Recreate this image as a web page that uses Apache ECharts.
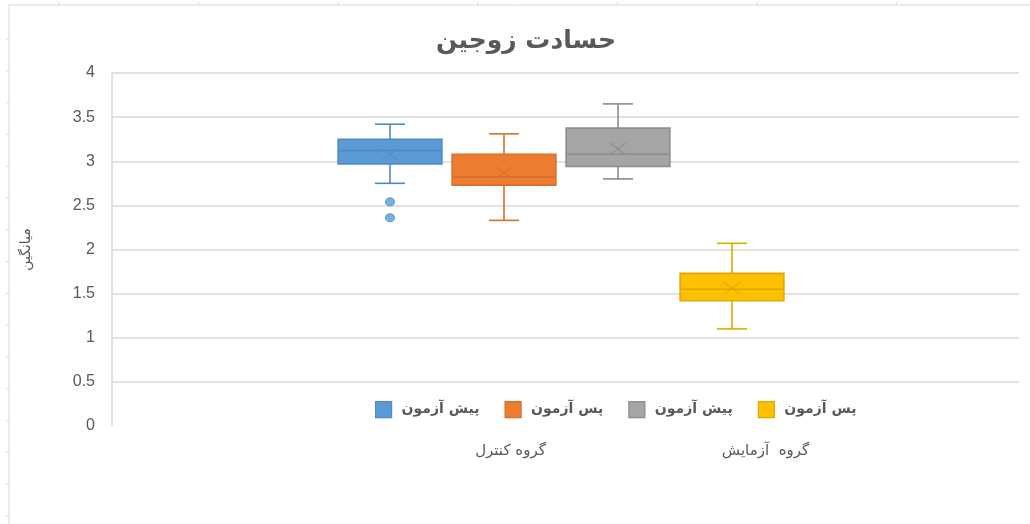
<!DOCTYPE html>
<html>
<head>
<meta charset="utf-8"/>
<title>حسادت زوجین</title>
<script src="https://cdn.jsdelivr.net/npm/echarts@6/dist/echarts.min.js"></script>
</head>
<body style="margin:0;background:#fff">
<div id="main" style="width:1030px;height:524px"></div>
<script>
// داده ها
var title = 'حسادت زوجین';
var yName = 'میانگین';
var groups = ['گروه کنترل', 'گروه  آزمایش'];
var testNames = ['پیش آزمون', 'پس آزمون', 'پیش آزمون', 'پس آزمون'];
var testGroup = [0, 0, 1, 1];
// [min, Q1, median, Q3, max]
var boxStats = [
  [2.75, 2.97, 3.12, 3.25, 3.42],
  [2.33, 2.73, 2.82, 3.08, 3.31],
  [2.80, 2.94, 3.08, 3.375, 3.65],
  [1.10, 1.42, 1.55, 1.73, 2.07]
];
var means = [3.08, 2.87, 3.14, 1.56];
var outliers = [[2.54, 2.36], [], [], []];
var yMin = 0, yMax = 4, yStep = 0.5;

var fills = ['#5B9BD5', '#ED7D31', '#A5A5A5', '#FFC000'];
var lines = ['#4C8BC8', '#D8702A', '#8C8C8C', '#E0A800'];
var font = "'Liberation Sans', 'DejaVu Sans', sans-serif";
var txt = '#595959';

var chart = echarts.init(document.getElementById('main'));

// نام یکتا برای هر سری (در راهنما فقط نام آزمون نشان داده می شود)
function keyOf(i) { return testNames[i] + ' | ' + groups[testGroup[i]]; }

function renderBox(params, api) {
  var x = api.value(0);
  var lo = api.coord([x, api.value(1)]);
  var q1 = api.coord([x, api.value(2)]);
  var md = api.coord([x, api.value(3)]);
  var q3 = api.coord([x, api.value(4)]);
  var hi = api.coord([x, api.value(5)]);
  var mn = api.coord([x, api.value(6)]);
  var band = api.size([1, 0])[0];
  var half = band * 0.455, cap = 15, c = lo[0];
  var i = params.seriesIndex;
  var ln = { stroke: lines[i], lineWidth: 1.6 };
  return {
    type: 'group',
    children: [
      { type: 'line', shape: { x1: c, y1: hi[1], x2: c, y2: q3[1] }, style: ln },
      { type: 'line', shape: { x1: c, y1: q1[1], x2: c, y2: lo[1] }, style: ln },
      { type: 'line', shape: { x1: c - cap, y1: hi[1], x2: c + cap, y2: hi[1] }, style: ln },
      { type: 'line', shape: { x1: c - cap, y1: lo[1], x2: c + cap, y2: lo[1] }, style: ln },
      { type: 'rect', shape: { x: c - half, y: q3[1], width: half * 2, height: q1[1] - q3[1] },
        style: { fill: fills[i], stroke: lines[i], lineWidth: 1.6 } },
      { type: 'line', shape: { x1: c - half, y1: md[1], x2: c + half, y2: md[1] }, style: ln },
      { type: 'line', shape: { x1: c - 8, y1: mn[1] - 6, x2: c + 8, y2: mn[1] + 6 },
        style: { stroke: lines[i], lineWidth: 1.4, opacity: 0.7 } },
      { type: 'line', shape: { x1: c - 8, y1: mn[1] + 6, x2: c + 8, y2: mn[1] - 6 },
        style: { stroke: lines[i], lineWidth: 1.4, opacity: 0.7 } }
    ]
  };
}

var series = [];
var legendData = [];
for (var i = 0; i < boxStats.length; i++) {
  series.push({
    name: keyOf(i),
    type: 'custom',
    xAxisIndex: 1,
    yAxisIndex: 1,
    renderItem: renderBox,
    itemStyle: { color: fills[i], borderColor: lines[i] },
    encode: { x: 0, y: [1, 2, 3, 4, 5] },
    data: [[i].concat(boxStats[i], [means[i]])],
    z: 3
  });
  legendData.push({
    name: keyOf(i),
    itemStyle: { color: fills[i], borderColor: lines[i], borderWidth: 1.2 }
  });
}
for (var i = 0; i < outliers.length; i++) {
  if (!outliers[i].length) continue;
  series.push({
    type: 'scatter',
    xAxisIndex: 1,
    yAxisIndex: 1,
    symbol: 'circle',
    symbolSize: [9, 8],
    itemStyle: { color: fills[i], borderColor: lines[i], borderWidth: 1 },
    data: outliers[i].map(function (v) { return [i, v]; }),
    z: 4
  });
}

// قاب خاکستری اطراف (خطوط برگه)
var frame = [
  { type: 'line', shape: { x1: 9, y1: 5, x2: 1030, y2: 5 }, style: { stroke: '#d9d9d9', lineWidth: 1 } },
  { type: 'line', shape: { x1: 9, y1: 5, x2: 9, y2: 524 }, style: { stroke: '#d9d9d9', lineWidth: 1 } }
];
for (var k = 0; k < 7; k++) {
  frame.push({ type: 'line', shape: { x1: 59 + k * 139.6, y1: 2, x2: 59 + k * 139.6, y2: 5 },
    style: { stroke: '#d9d9d9', lineWidth: 1 } });
}
for (var k = 0; k < 16; k++) {
  frame.push({ type: 'line', shape: { x1: 6, y1: 39 + k * 31.8, x2: 9, y2: 39 + k * 31.8 },
    style: { stroke: '#d9d9d9', lineWidth: 1 } });
}

var hiddenY = { type: 'value', min: yMin, max: yMax, interval: yStep, show: false };

var option = {
  backgroundColor: '#fff',
  animation: false,
  textStyle: { fontFamily: font },
  title: {
    text: title,
    left: 521,
    textAlign: 'center',
    top: 24,
    textStyle: { fontFamily: 'DejaVu Sans', fontSize: 25, fontWeight: 'bold', color: txt }
  },
  legend: {
    data: legendData,
    left: 375,
    top: 401,
    padding: 0,
    icon: 'rect',
    itemWidth: 16,
    itemHeight: 16,
    itemGap: 25,
    formatter: function (name) { return name.split(' | ')[0]; },
    textStyle: { fontFamily: 'DejaVu Sans', fontSize: 14, color: txt, fontWeight: 'bold',
      padding: [0, 0, 0, 5] }
  },
  grid: [
    { left: 112, right: 11, top: 73, bottom: 98 },
    { left: 333, width: 456, top: 73, bottom: 98 },
    { left: 383, width: 510, top: 73, bottom: 98 }
  ],
  xAxis: [
    { type: 'category', gridIndex: 0, data: [''], show: false },
    { type: 'category', gridIndex: 1, data: testNames, show: false },
    { type: 'category', gridIndex: 2, data: groups,
      axisLine: { show: false }, axisTick: { show: false },
      axisLabel: { margin: 18, fontSize: 15, color: txt, fontFamily: 'DejaVu Sans' } }
  ],
  yAxis: [
    { type: 'value', gridIndex: 0, min: yMin, max: yMax, interval: yStep,
      name: yName, nameLocation: 'middle', nameGap: 79,
      nameTextStyle: { fontSize: 14, color: txt, fontFamily: 'DejaVu Sans' },
      axisLine: { show: true, lineStyle: { color: '#d9d9d9', width: 1.5 } },
      axisTick: { show: false },
      axisLabel: { margin: 17, fontSize: 16, color: txt },
      splitLine: { showMinLine: false, lineStyle: { color: '#d9d9d9', width: 1.5 } } },
    Object.assign({ gridIndex: 1 }, hiddenY),
    Object.assign({ gridIndex: 2 }, hiddenY)
  ],
  graphic: frame,
  series: series
};

chart.setOption(option);
</script>
</body>
</html>
